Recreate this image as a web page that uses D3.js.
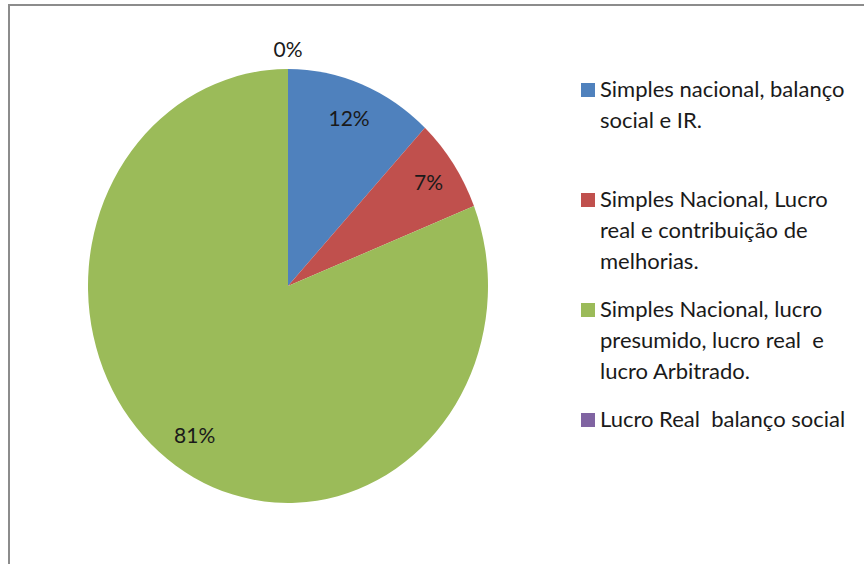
<!DOCTYPE html>
<html>
<head>
<meta charset="utf-8">
<script src="https://cdn.jsdelivr.net/npm/d3@7"></script>
<style>
  html, body { margin: 0; padding: 0; background: #fff; }
  svg { display: block; }
</style>
</head>
<body>
<svg id="chart" width="864" height="564"></svg>
<script>
// Tax regimes reported (share of respondents, %)
const categories = [
  "Simples nacional, balanço social e IR.",
  "Simples Nacional, Lucro real e contribuição de melhorias.",
  "Simples Nacional, lucro presumido, lucro real  e lucro Arbitrado.",
  "Lucro Real  balanço social"
];
const values = [12, 7, 81, 0];
const valueLabels = ["12%", "7%", "81%", "0%"];
const legendLines = [
  ["Simples nacional, balanço", "social e IR."],
  ["Simples Nacional, Lucro", "real e contribuição de", "melhorias."],
  ["Simples Nacional, lucro", "presumido, lucro real  e", "lucro Arbitrado."],
  ["Lucro Real  balanço social"]
];
const colors = ["#4F81BD", "#C0504D", "#9BBB59", "#8064A2"];

const svg = d3.select("#chart");
const font = "Lato, 'Open Sans', sans-serif";

// chart frame (runs off the right and bottom edges)
svg.append("rect")
  .attr("x", 9).attr("y", 5)
  .attr("width", 900).attr("height", 600)
  .attr("fill", "#fff")
  .attr("stroke", "#8c8c8c")
  .attr("stroke-width", 2);

const cx = 288, cy = 286, r = 200, sy = 1.085;

const pie = d3.pie().sort(null).value(d => d)(values);
const arc = d3.arc().innerRadius(0).outerRadius(r);

const g = svg.append("g")
  .attr("transform", `translate(${cx},${cy}) scale(1,${sy})`);

g.selectAll("path")
  .data(pie)
  .join("path")
  .attr("d", arc)
  .attr("fill", (d, i) => colors[i]);

// data labels, placed along each slice's mid angle
const labelR = [0.83, 0.85, 0.83, 1.09];
pie.forEach((d, i) => {
  const a = (d.startAngle + d.endAngle) / 2;
  const rr = r * labelR[i];
  const x = cx + Math.sin(a) * rr;
  const y = cy - Math.cos(a) * rr * sy;
  svg.append("text")
    .attr("x", x).attr("y", y)
    .attr("dy", "0.36em")
    .attr("text-anchor", "middle")
    .attr("font-family", font)
    .attr("font-size", 21)
    .attr("fill", "#1a1a1a")
    .text(valueLabels[i]);
});

// legend
const legendTop = [97, 207, 317, 427];
const lineH = 31;
const leg = svg.append("g");
legendLines.forEach((lines, i) => {
  leg.append("rect")
    .attr("x", 581).attr("y", legendTop[i] - 14)
    .attr("width", 14).attr("height", 14)
    .attr("fill", colors[i]);
  const t = leg.append("text")
    .attr("font-family", font)
    .attr("font-size", 22)
    .attr("fill", "#1a1a1a")
    .attr("xml:space", "preserve");
  lines.forEach((ln, j) => {
    t.append("tspan")
      .attr("x", 600)
      .attr("y", legendTop[i] + j * lineH)
      .text(ln);
  });
});
</script>
</body>
</html>
